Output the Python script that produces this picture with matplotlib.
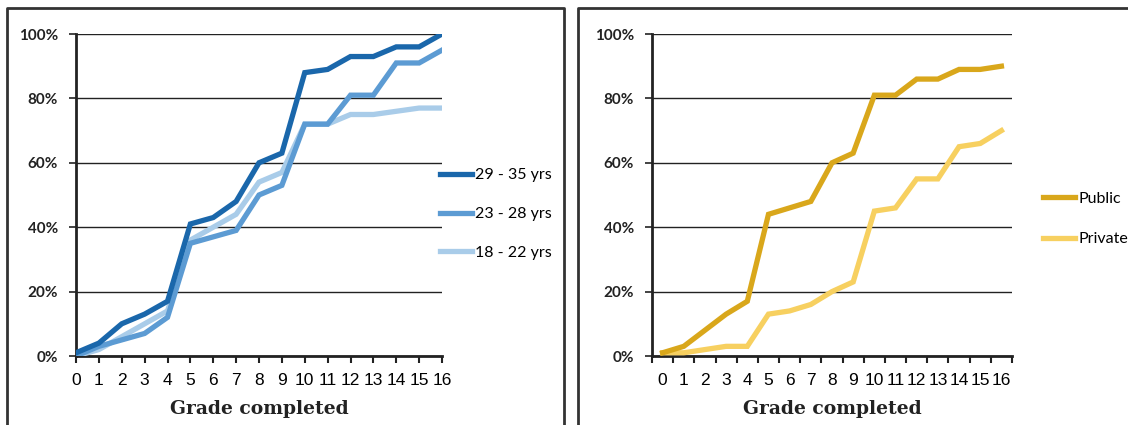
import numpy as np
import matplotlib
matplotlib.use('Agg')
import matplotlib.pyplot as plt
from matplotlib.lines import Line2D
from matplotlib.ticker import FuncFormatter

# grades 0..16
grades = list(range(17))

# share having completed each grade, by age group (%)
age_29_35 = [1, 4, 10, 13, 17, 41, 43, 48, 60, 63, 88, 89, 93, 93, 96, 96, 100]
age_23_28 = [0, 3, 5, 7, 12, 35, 37, 39, 50, 53, 72, 72, 81, 81, 91, 91, 95]
age_18_22 = [0, 2, 6, 10, 14, 36, 40, 44, 54, 57, 72, 72, 75, 75, 76, 77, 77]
age_labels = ['29 - 35 yrs', '23 - 28 yrs', '18 - 22 yrs']

# by school type (%)
public = [1, 3, 8, 13, 17, 44, 46, 48, 60, 63, 81, 81, 86, 86, 89, 89, 90]
private = [1, 1, 2, 3, 3, 13, 14, 16, 20, 23, 45, 46, 55, 55, 65, 66, 70]
school_labels = ['Public', 'Private']

y_ticks = [0, 20, 40, 60, 80, 100]

W, H = 1128, 425
fig = plt.figure(figsize=(W / 100, H / 100), dpi=100)

tick_font = {'family': 'Liberation Sans', 'size': 12.5}
ylab_font = {'family': 'Lato', 'weight': 'bold', 'size': 11}
xlab_font = {'family': 'DejaVu Serif', 'weight': 'bold', 'size': 13.5}


def px(x0, y0, x1, y1):
    """pixel box -> figure rect"""
    return [x0 / W, 1 - y1 / H, (x1 - x0) / W, (y1 - y0) / H]


def style_axes(ax):
    ax.set_ylim(0, 100)
    ax.set_yticks(y_ticks)
    ax.yaxis.set_major_formatter(FuncFormatter(lambda v, p: f'{v:.0f}%'))
    for lab in ax.get_yticklabels():
        lab.set_fontfamily(ylab_font['family'])
        lab.set_fontweight('bold')
        lab.set_fontsize(ylab_font['size'])
        lab.set_color('#222222')
    ax.tick_params(axis='y', length=5, width=1.2, pad=8, color='#222222')
    ax.grid(axis='y', color='#222222', linewidth=1.0)
    ax.set_axisbelow(True)
    for s in ['top', 'right']:
        ax.spines[s].set_visible(False)
    for s in ['left', 'bottom']:
        ax.spines[s].set_linewidth(2.0)
        ax.spines[s].set_color('#222222')
    ax.set_xlabel('Grade completed', fontdict=xlab_font, color='#222222', labelpad=9)


# ---- left panel: age groups ----
ax1 = fig.add_axes(px(76, 34, 442, 356))
ax1.plot(grades, age_18_22, color='#a9cce9', lw=3.8, solid_joinstyle='miter', zorder=3)
ax1.plot(grades, age_23_28, color='#5c9bd3', lw=3.8, solid_joinstyle='miter', zorder=4)
ax1.plot(grades, age_29_35, color='#1a67ab', lw=3.8, solid_joinstyle='miter', zorder=5)
ax1.set_xlim(0, 16)
ax1.set_xticks(grades)
ax1.set_xticklabels([str(g) for g in grades], fontdict=tick_font)
ax1.tick_params(axis='x', length=5, width=1.5, pad=7, color='#222222')
style_axes(ax1)

h1 = [Line2D([], [], color=c, lw=3.8) for c in ['#1a67ab', '#5c9bd3', '#a9cce9']]
fig.legend(h1, age_labels, loc='center left', bbox_to_anchor=(440 / W, 1 - 214 / H),
           frameon=False, borderpad=0, borderaxespad=0, handlelength=2.0,
           handletextpad=0.2, labelspacing=1.55,
           prop={'family': 'Lato', 'size': 11.5})

# ---- right panel: public vs private ----
ax2 = fig.add_axes(px(652, 34, 1012, 356))
ax2.plot(grades, private, color='#f7d060', lw=3.8, solid_joinstyle='miter', zorder=3)
ax2.plot(grades, public, color='#d9a71b', lw=3.8, solid_joinstyle='miter', zorder=4)
ax2.set_xlim(-0.5, 16.5)
ax2.set_xticks(grades)
ax2.set_xticklabels([str(g) for g in grades], fontdict=tick_font)
ax2.set_xticks(np.arange(-0.5, 17, 1), minor=True)
ax2.tick_params(axis='x', which='major', length=0, pad=12)
ax2.tick_params(axis='x', which='minor', length=5, width=1.5, color='#222222')
style_axes(ax2)

h2 = [Line2D([], [], color=c, lw=3.8) for c in ['#d9a71b', '#f7d060']]
fig.legend(h2, school_labels, loc='center left', bbox_to_anchor=(1043 / W, 1 - 219 / H),
           frameon=False, borderpad=0, borderaxespad=0, handlelength=2.0,
           handletextpad=0.2, labelspacing=1.65,
           prop={'family': 'Lato', 'size': 11.5})

# panel frames
frame_kw = dict(color='#333333', lw=2.0, transform=fig.transFigure)
fig.add_artist(Line2D([7 / W, 7 / W, 564 / W, 564 / W], [0, 1 - 8 / H, 1 - 8 / H, 0], **frame_kw))
fig.add_artist(Line2D([578 / W, 578 / W, 1], [0, 1 - 8 / H, 1 - 8 / H], **frame_kw))

fig.savefig('out.png', dpi=100)
